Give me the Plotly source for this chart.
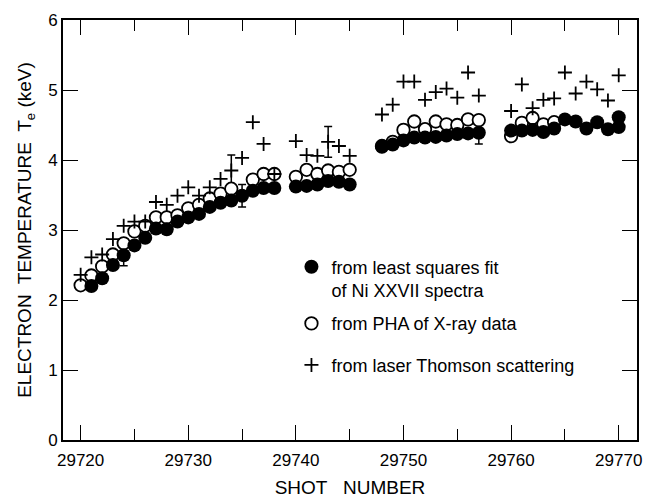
import plotly.graph_objects as go

# ---------------- data ----------------
filled_shots = (list(range(29721, 29739)) + list(range(29740, 29746)) +
                list(range(29748, 29758)) + list(range(29760, 29771)) + [29770])
filled_te = [2.20, 2.31, 2.50, 2.64, 2.78, 2.89, 3.02, 3.01, 3.12, 3.18, 3.23, 3.33, 3.39, 3.42, 3.49, 3.56, 3.60, 3.60,
             3.62, 3.63, 3.65, 3.70, 3.69, 3.65,
             4.19, 4.22, 4.28, 4.32, 4.32, 4.33, 4.35, 4.37, 4.38, 4.39,
             4.42, 4.42, 4.43, 4.40, 4.45, 4.58, 4.55, 4.45, 4.54, 4.44, 4.61, 4.47]

open_shots = (list(range(29720, 29735)) + [29736, 29737, 29738] + list(range(29740, 29746)) +
              list(range(29748, 29758)) + list(range(29760, 29765)))
open_te = [2.21, 2.35, 2.48, 2.65, 2.81, 2.98, 3.06, 3.18, 3.18, 3.21, 3.31, 3.36, 3.45, 3.52, 3.59,
           3.72, 3.80, 3.80,
           3.76, 3.86, 3.80, 3.85, 3.83, 3.86,
           4.20, 4.26, 4.43, 4.55, 4.44, 4.55, 4.51, 4.50, 4.58, 4.57,
           4.34, 4.53, 4.60, 4.51, 4.54]

plus_shots = (list(range(29720, 29739)) + list(range(29740, 29746)) +
              list(range(29748, 29758)) + list(range(29760, 29771)))
plus_te = [2.36, 2.61, 2.65, 2.87, 3.06, 3.12, 3.12, 3.40, 3.36, 3.49, 3.61, 3.49, 3.61, 3.73, 3.85, 4.03, 4.54, 4.23, 3.80,
           4.27, 4.07, 4.06, 4.26, 4.20, 4.06,
           4.65, 4.79, 5.12, 5.12, 4.86, 4.97, 5.02, 4.89, 5.25, 4.92,
           4.70, 5.08, 4.74, 4.86, 4.88, 5.25, 4.95, 5.12, 5.01, 4.85, 5.21]

filled_err_shots = [29724, 29735, 29757]
filled_err = [0.15, 0.16, 0.16]
plus_err_shots = [29734, 29743]
plus_err = [0.22, 0.22]

x_ticks = [29720, 29730, 29740, 29750, 29760, 29770]
y_ticks = [0, 1, 2, 3, 4, 5, 6]

names = ["from least squares fit<br>of Ni XXVII spectra",
         "from PHA of X-ray data",
         "from laser Thomson scattering"]

FONT = "Liberation Sans, Arial, Helvetica, sans-serif"

fmap = dict(zip(filled_shots, filled_te))
pmap = dict(zip(plus_shots, plus_te))

fig = go.Figure()

# error bars (drawn underneath)
fig.add_trace(go.Scatter(
    x=filled_err_shots, y=[fmap[s] for s in filled_err_shots], mode="markers",
    marker=dict(size=1, color="rgba(0,0,0,0)"), showlegend=False, hoverinfo="skip",
    error_y=dict(type="data", array=filled_err, color="black", thickness=1.5, width=4)))
fig.add_trace(go.Scatter(
    x=plus_err_shots, y=[pmap[s] for s in plus_err_shots], mode="markers",
    marker=dict(size=1, color="rgba(0,0,0,0)"), showlegend=False, hoverinfo="skip",
    error_y=dict(type="data", array=plus_err, color="black", thickness=1.5, width=4)))

# open circles (PHA)
fig.add_trace(go.Scatter(
    x=open_shots, y=open_te, mode="markers", name=names[1], legend="legend2",
    marker=dict(symbol="circle", size=12.5, color="white", line=dict(color="black", width=1.8))))
# filled circles (least squares)
fig.add_trace(go.Scatter(
    x=filled_shots, y=filled_te, mode="markers", name=names[0], legend="legend",
    marker=dict(symbol="circle", size=14, color="black", line=dict(width=0))))
# plus (Thomson)
fig.add_trace(go.Scatter(
    x=plus_shots, y=plus_te, mode="markers", name=names[2], legend="legend3",
    marker=dict(symbol="cross-thin", size=10, color="black", line=dict(color="black", width=1.8))))

leg_common = dict(x=0.398, xanchor="left", yanchor="top", valign="top",
                  font=dict(family=FONT, size=18, color="black"), bgcolor="rgba(0,0,0,0)")

fig.update_layout(
    width=647, height=500,
    margin=dict(l=63, r=5, t=20, b=57),
    paper_bgcolor="white", plot_bgcolor="white",
    font=dict(family=FONT, size=17, color="black"),
    legend=dict(y=0.456, **leg_common),
    legend2=dict(y=0.321, **leg_common),
    legend3=dict(y=0.222, **leg_common),
    xaxis=dict(range=[29718.36, 29771.7], tickvals=x_ticks, ticktext=[str(v) for v in x_ticks],
               ticks="inside", ticklen=15, tickwidth=1.4, tickcolor="black",
               minor=dict(dtick=5, tick0=29720, ticks="inside", ticklen=11, tickwidth=1.4, tickcolor="black"),
               showline=True, linecolor="black", linewidth=1.8, mirror="allticks",
               showgrid=False, zeroline=False, ticklabelstandoff=4,
               tickfont=dict(family=FONT, size=17),
               title=dict(text="SHOT   NUMBER", font=dict(family=FONT, size=19), standoff=11)),
    yaxis=dict(range=[0, 6], tickvals=y_ticks, ticks="inside", ticklen=15, tickwidth=1.4, tickcolor="black",
               showline=True, linecolor="black", linewidth=1.8, mirror="ticks",
               showgrid=False, zeroline=False,
               tickfont=dict(family=FONT, size=17),
               title=dict(text="ELECTRON  TEMPERATURE  T<sub>e</sub> (keV)", font=dict(family=FONT, size=19),
                          standoff=12)),
)

fig.write_html("out.html")
